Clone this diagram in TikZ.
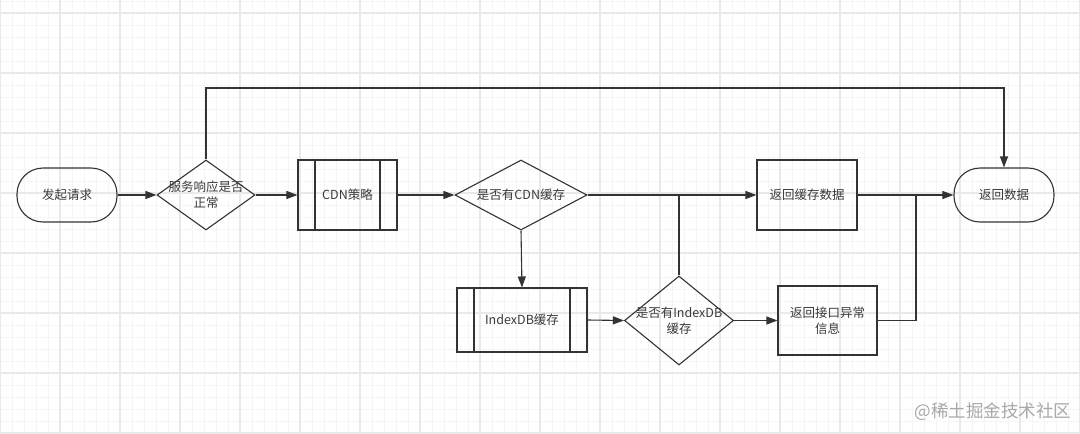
\documentclass[tikz,border=0pt]{standalone}
\usepackage{fontspec}
\setmainfont{Noto Sans CJK SC}
\usetikzlibrary{shapes.geometric,arrows.meta}
\definecolor{ink}{HTML}{333333}
\definecolor{txt}{HTML}{3A3A3A}
\definecolor{gridminor}{HTML}{F5F5F5}
\definecolor{gridmajor}{HTML}{E9E9E9}
\definecolor{wm}{HTML}{A8A8A8}
\tikzset{
  base/.style={draw=ink, line width=1.1pt, inner sep=0pt, text=txt, font=\fontsize{12.5}{16}\selectfont, align=center},
  terminal/.style={base, rectangle, rounded corners=26pt, minimum width=100pt, minimum height=54pt},
  process/.style={base, rectangle, minimum width=100pt, minimum height=70pt},
  subproc/.style={base, rectangle, minimum width=#1, minimum height=70pt,
    path picture={
      \draw[draw=ink, line width=1.1pt] ([xshift=17pt]path picture bounding box.north west) -- ([xshift=17pt]path picture bounding box.south west);
      \draw[draw=ink, line width=1.1pt] ([xshift=-17pt]path picture bounding box.north east) -- ([xshift=-17pt]path picture bounding box.south east);
    }},
  decision/.style={base, diamond, minimum width=#1, minimum height=70pt},
  conn/.style={draw=ink, line width=1.1pt},
  arrow/.style={conn, -{Triangle[length=11pt, width=8pt]}},
}
\begin{document}
\begin{tikzpicture}[x=1pt, y=-1pt]
  \fill[white] (0,0) rectangle (1080,434);
  \useasboundingbox (0,0) rectangle (1080,434);
  % grid
  \foreach \x in {0,12,...,1080} \draw[gridminor, line width=0.8pt] (\x,0) -- (\x,434);
  \foreach \y in {1,13,...,433} \draw[gridminor, line width=0.8pt] (0,\y) -- (1080,\y);
  \foreach \x in {0,60,...,1080} \draw[gridmajor, line width=1.2pt] (\x,0) -- (\x,434);
  \foreach \y in {13,73,...,433} \draw[gridmajor, line width=1.2pt] (0,\y) -- (1080,\y);

  % nodes
  \node[terminal] (start) at (67,195) {发起请求};
  \node[decision=98pt, label={[text=txt, font=\fontsize{12.5}{16}\selectfont, align=center]center:服务响应是否\\正常}] (d1) at (206,195) {};
  \node[subproc=99pt] (cdn) at (347.5,195) {CDN策略};
  \node[decision=132pt, label={[text=txt, font=\fontsize{12.5}{16}\selectfont]center:是否有CDN缓存}] (d2) at (521,195) {};
  \node[subproc=130pt, minimum height=64pt] (idx) at (522,320) {IndexDB缓存};
  \node[decision=109pt, minimum height=89pt, label={[text=txt, font=\fontsize{12.5}{16}\selectfont, align=center]center:是否有IndexDB\\缓存}] (d3) at (679,320.5) {};
  \node[process] (ret1) at (807,195) {返回缓存数据};
  \node[process, minimum width=99pt, minimum height=69pt] (err) at (827.5,320.5) {返回接口异常\\信息};
  \node[terminal] (end) at (1004,195) {返回数据};

  \node[text=wm, font=\fontsize{17.5}{19}\selectfont, inner sep=0pt] (wm) at (993,412) {@稀土掘金技术社区};

  % helper coordinates
  \coordinate (top) at (206,88);
  \coordinate (j1) at (679,195);
  \coordinate (j2) at (916,195);

  % connectors
  \draw[arrow] (start.east) -- (d1.west);
  \draw[arrow] (d1.east) -- (cdn.west);
  \draw[arrow] (cdn.east) -- (d2.west);
  \draw[arrow] (d2.east) -- (ret1.west);
  \draw[arrow] (d2.south) -- (idx.north);
  \draw[arrow] (idx.east) -- (d3.west);
  \draw[arrow] (d3.east) -- (err.west);
  \draw[conn] (d3.north) -- (j1);
  \draw[arrow] (ret1.east) -- (end.west);
  \draw[conn] (err.east) -| (j2);
  \draw[arrow] (d1.north) -- (top) -| (end.north);
\end{tikzpicture}
\end{document}
